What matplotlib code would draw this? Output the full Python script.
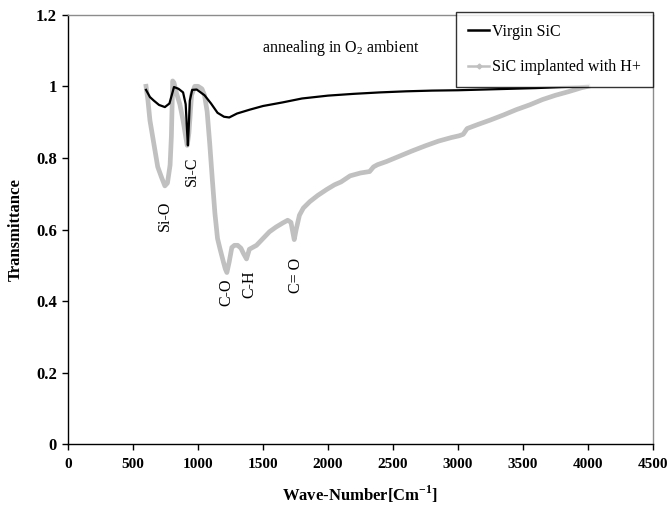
import matplotlib
matplotlib.use("Agg")
import matplotlib.pyplot as plt
from matplotlib.lines import Line2D

plt.rcParams['font.family'] = ['Liberation Serif', 'DejaVu Serif']
plt.rcParams['mathtext.fontset'] = 'custom'
plt.rcParams['mathtext.rm'] = 'Liberation Serif'
plt.rcParams['mathtext.bf'] = 'Liberation Serif:bold'

# Virgin SiC (black)
wn_virgin = [600, 630, 660, 700, 745, 780, 800, 815, 850, 885, 905, 915, 922, 928,
             937, 955, 990, 1050, 1100, 1150, 1200, 1240, 1300, 1400, 1500, 1650,
             1800, 2000, 2200, 2400, 2600, 2800, 3000, 3200, 3400, 3600, 3800, 4000]
t_virgin = [0.99, 0.97, 0.96, 0.948, 0.942, 0.952, 0.978, 0.998, 0.993, 0.983, 0.95,
            0.88, 0.835, 0.88, 0.96, 0.99, 0.991, 0.975, 0.952, 0.926, 0.915, 0.913,
            0.924, 0.935, 0.945, 0.955, 0.966, 0.974, 0.979, 0.983, 0.986, 0.988,
            0.989, 0.991, 0.993, 0.995, 0.998, 1.0]

# SiC implanted with H+ (grey)
wn_impl = [600, 615, 630, 660, 690, 720, 745, 765, 785, 795, 805, 815, 835, 860, 885,
           905, 917, 930, 950, 975, 1000, 1030, 1050, 1070, 1090, 1110, 1130, 1150,
           1170, 1195, 1210, 1222, 1240, 1260, 1280, 1305, 1330, 1350, 1373, 1395,
           1420, 1450, 1500, 1550, 1600, 1650, 1690, 1715, 1728, 1740, 1755, 1780,
           1810, 1860, 1920, 1990, 2050, 2100, 2170, 2250, 2320, 2350, 2380, 2450,
           2550, 2650, 2750, 2850, 2950, 3010, 3040, 3070, 3150, 3250, 3350, 3450,
           3550, 3650, 3750, 3850, 3950, 4000]
t_impl = [1.0, 0.96, 0.905, 0.84, 0.775, 0.745, 0.722, 0.73, 0.78, 0.86, 1.015, 1.01,
          0.98, 0.95, 0.905, 0.86, 0.835, 0.87, 0.975, 1.0, 1.0, 0.993, 0.975, 0.93,
          0.84, 0.74, 0.645, 0.575, 0.545, 0.51, 0.49, 0.48, 0.51, 0.55, 0.556, 0.556,
          0.548, 0.533, 0.518, 0.545, 0.55, 0.556, 0.575, 0.594, 0.607, 0.618, 0.626,
          0.62, 0.595, 0.572, 0.6, 0.64, 0.66, 0.678, 0.695, 0.712, 0.725, 0.733,
          0.75, 0.758, 0.762, 0.775, 0.781, 0.79, 0.805, 0.82, 0.834, 0.847, 0.857,
          0.862, 0.866, 0.882, 0.893, 0.906, 0.92, 0.935, 0.948, 0.963, 0.975, 0.985,
          0.996, 1.0]

series_labels = ["Virgin SiC", "SiC implanted with H+"]

# peak annotations: label, wave number, transmittance position
peak_labels = ["Si-O", "Si-C", "C-O", "C-H", "C= O"]
peak_wn = [745, 950, 1220, 1393, 1757]
peak_t = [0.637, 0.763, 0.425, 0.448, 0.473]

x_ticks = [0, 500, 1000, 1500, 2000, 2500, 3000, 3500, 4000, 4500]
y_ticks = [0, 0.2, 0.4, 0.6, 0.8, 1.0, 1.2]
y_tick_labels = ["0", "0.2", "0.4", "0.6", "0.8", "1", "1.2"]

fig = plt.figure(figsize=(6.67, 5.15), dpi=100)
ax = fig.add_axes([0.102, 0.137, 0.877, 0.8345])

grey = '#c0c0c0'
ax.plot(wn_virgin, t_virgin, color='black', lw=1.6, solid_joinstyle='round', zorder=3)
ax.plot(wn_impl, t_impl, color=grey, lw=3.4, solid_joinstyle='round', zorder=2)

ax.set_xlim(0, 4500)
ax.set_ylim(0, 1.2)
ax.set_xticks(x_ticks)
ax.set_xticklabels([str(v) for v in x_ticks], fontweight='bold', fontsize=11)
ax.set_yticks(y_ticks)
ax.set_yticklabels(y_tick_labels, fontweight='bold', fontsize=12)
ax.tick_params(direction='out', length=4, width=1, pad=4, colors='black')
ax.tick_params(axis='x', pad=6)

for s in ['left', 'bottom']:
    ax.spines[s].set_color('black')
    ax.spines[s].set_linewidth(1.0)
for s in ['top', 'right']:
    ax.spines[s].set_color('#8c8c8c')
    ax.spines[s].set_linewidth(1.0)

ax.set_xlabel("Wave-Number[Cm$^{\\mathbf{-1}}$]", fontweight='bold', fontsize=12, labelpad=9)
ax.set_ylabel("Transmittance", fontweight='bold', fontsize=12, labelpad=9)

for lab, x, y in zip(peak_labels, peak_wn, peak_t):
    ax.text(x, y, lab, rotation=90, ha='center', va='center', fontsize=11.5)

ax.text(1491, 1.106, "annealing in O$_2$ ambient", ha='left', va='center', fontsize=11.5)

handles = [Line2D([], [], color='black', lw=1.8),
           Line2D([], [], color=grey, lw=1.8, marker='D', markersize=2.5,
                  markerfacecolor=grey, markeredgecolor=grey)]
leg = fig.legend(handles, series_labels, loc='upper right',
                 bbox_to_anchor=(653 / 667, 1 - 12 / 515), borderaxespad=0,
                 fontsize=11.5, frameon=True, fancybox=False, handlelength=1.3,
                 handletextpad=0.2, labelspacing=1.2, borderpad=0.75)
leg.get_frame().set_edgecolor('black')
leg.get_frame().set_linewidth(1.0)

fig.savefig("out.png", dpi=100)
